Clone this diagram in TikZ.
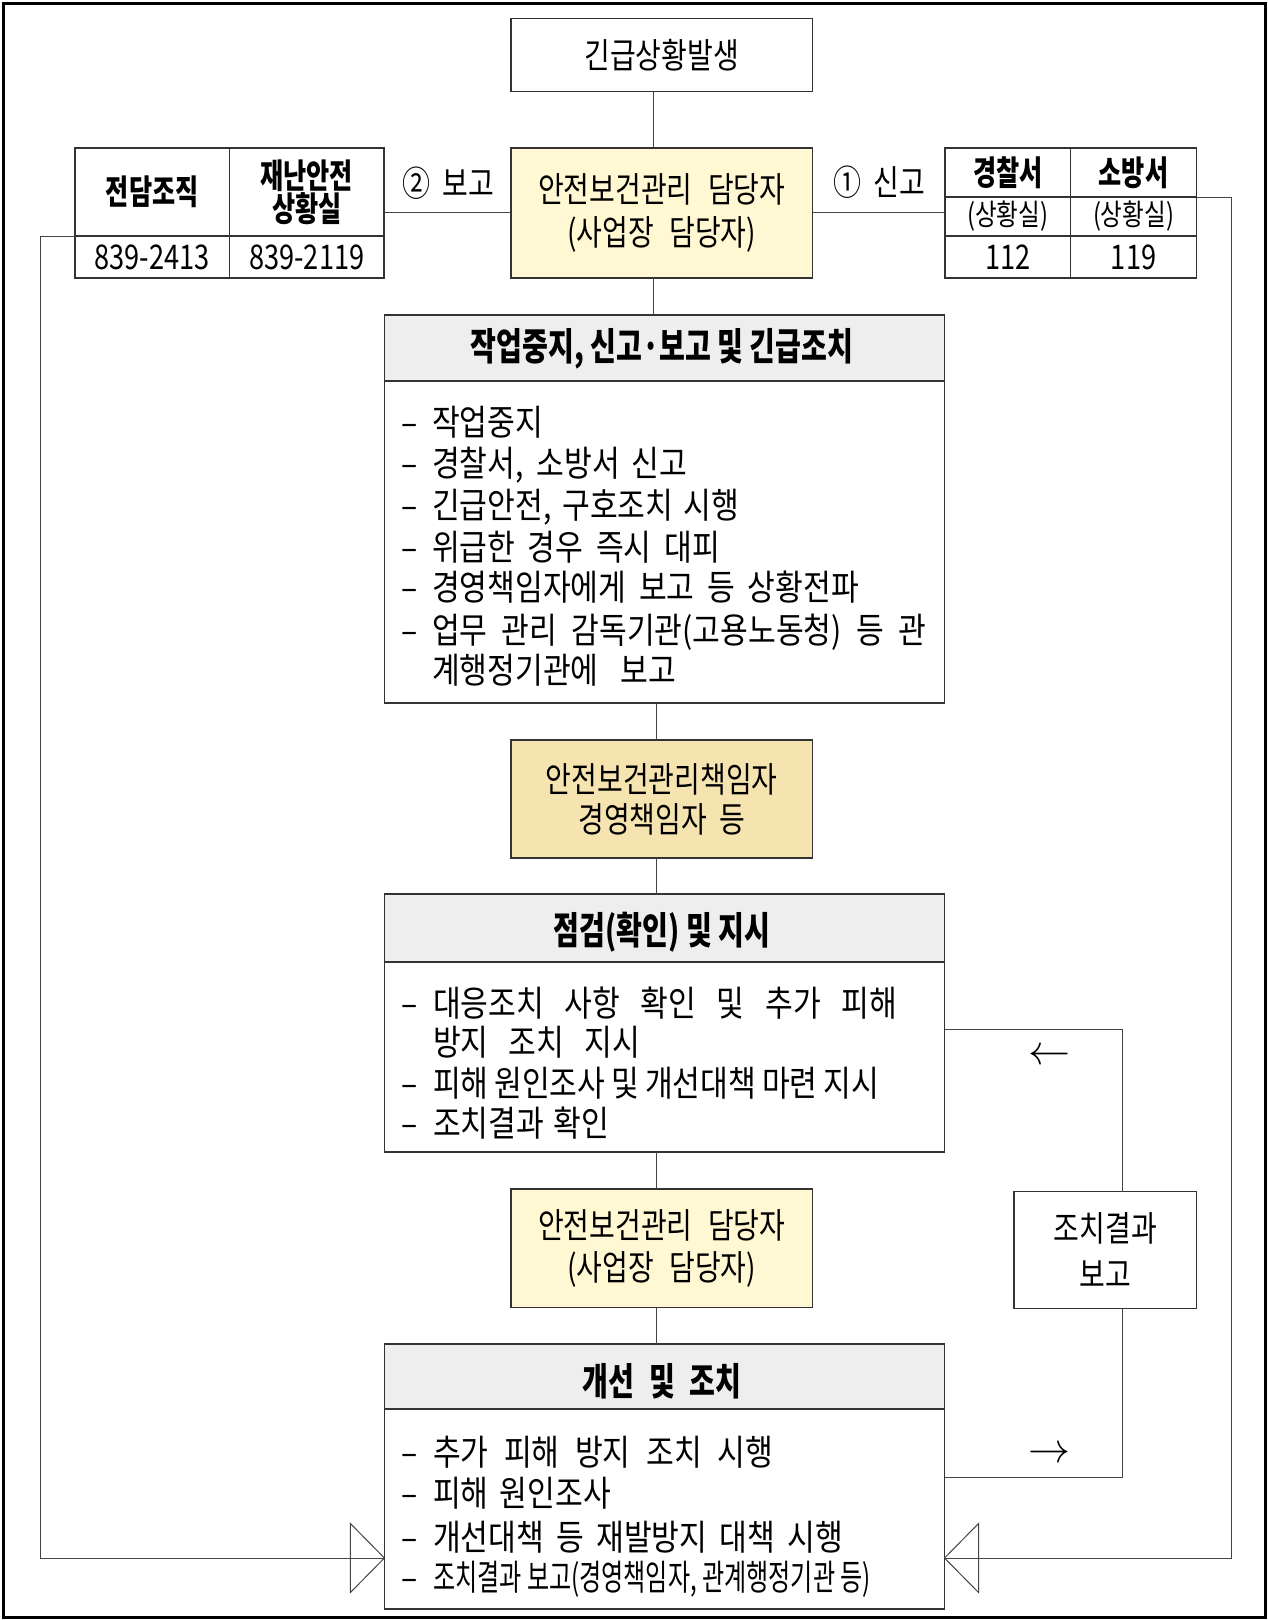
\documentclass[tikz,border=0pt]{standalone}
\usepackage{graphicx}
\usepackage{fontspec}
\usetikzlibrary{calc,arrows.meta}
\newfontfamily\krm[FakeStretch=0.8]{Noto Sans CJK KR}
\newfontfamily\krbody[FakeStretch=0.85]{Noto Sans CJK KR}
\newfontfamily\krh[FakeStretch=0.74]{Noto Sans CJK KR}
\definecolor{ylw}{HTML}{FFF8D2}
\definecolor{tanc}{HTML}{F6E4B0}
\definecolor{hdr}{HTML}{EEEEEE}
\definecolor{boxc}{HTML}{333333}
\definecolor{linec}{HTML}{444444}
\tikzset{
  box/.style={draw=boxc, line width=1.3pt, inner sep=0pt, outer sep=0pt, align=center},
  lbl/.style={font=\krm\fontsize{35}{43}\selectfont},
  cellh/.style={font=\krh\bfseries\fontsize{34}{26}\selectfont},
  cellnum/.style={font=\krm\fontsize{34}{36}\selectfont},
  cellsm/.style={font=\krm\fontsize{29.5}{30}\selectfont},
  conn/.style={draw=linec, line width=1pt},
  body/.style={anchor=base west, inner sep=0pt, outer sep=0pt, font=\krbody\fontsize{35.5}{41}\selectfont},
  hd/.style={inner sep=0pt, font=\krh\bfseries\fontsize{38}{40}\selectfont},
  arr/.style={inner sep=0pt},
}
\begin{document}
\begin{tikzpicture}[x=1pt,y=-1pt]
\useasboundingbox (0,0) rectangle (1267,1620);
\node[draw=black, line width=3pt, minimum width=1262pt, minimum height=1614pt, inner sep=0pt] (frame) at (634,810) {};
% top
\node[box, lbl, minimum width=301.5pt, minimum height=73pt] (top) at (661.75,55) {긴급상황발생};
\node[box, lbl, fill=ylw, minimum width=301.5pt, minimum height=130pt, font=\krm\fontsize{35}{43.4}\selectfont] (mgr) at (661.75,213) {안전보건관리\hspace{9pt} 담당자\\(사업장\hspace{9pt} 담당자)};
% left table
\node[box, cellh, minimum width=154.5pt, minimum height=88pt] (c11) at (152.25,192) {전담조직};
\node[box, cellh, minimum width=154.5pt, minimum height=88pt] (c12) at (306.75,192) {재난안전\\상황실};
\node[box, cellnum, minimum width=154.5pt, minimum height=42pt] (c21) at (152.25,257) {839-2413};
\node[box, cellnum, minimum width=154.5pt, minimum height=42pt] (c22) at (306.75,257) {839-2119};
% right table
\node[box, cellh, minimum width=125.6pt, minimum height=49pt] (d11) at (1007.8,172.5) {경찰서};
\node[box, cellh, minimum width=125.9pt, minimum height=49pt] (d12) at (1133.55,172.5) {소방서};
\node[box, cellsm, minimum width=125.6pt, minimum height=39pt] (d21) at (1007.8,216.5) {(상황실)};
\node[box, cellsm, minimum width=125.9pt, minimum height=39pt] (d22) at (1133.55,216.5) {(상황실)};
\node[box, cellnum, minimum width=125.6pt, minimum height=42pt] (d31) at (1007.8,257) {112};
\node[box, cellnum, minimum width=125.9pt, minimum height=42pt] (d32) at (1133.55,257) {119};
% labels
\node[inner sep=0pt, font=\krm\fontsize{35}{35}\selectfont] (rep2) at (448,183) {②\hspace{6pt} 보고};
\node[inner sep=0pt, font=\krm\fontsize{35}{35}\selectfont] (rep1) at (879.5,182) {①\hspace{6pt} 신고};
% box 1
\node[box, fill=hdr, minimum width=560.1pt, minimum height=66pt] (acth) at (664.45,348) {};
\node[box, minimum width=560.1pt, minimum height=322pt] (actb) at (664.45,542) {};
\node[hd] (actt) at (662,349) {작업중지, 신고·보고 및 긴급조치};
% chief
\node[box, lbl, fill=tanc, minimum width=301.5pt, minimum height=118pt, font=\krm\fontsize{35}{40}\selectfont] (chief) at (661.75,799) {안전보건관리책임자\\경영책임자\hspace{6pt} 등};
% box 2
\node[box, fill=hdr, minimum width=560.1pt, minimum height=68pt] (chkh) at (664.45,928) {};
\node[box, minimum width=560.1pt, minimum height=190pt] (chkb) at (664.45,1057) {};
\node[hd] (chkt) at (662,932) {점검(확인) 및 지시};
% mgr2
\node[box, lbl, fill=ylw, minimum width=301.5pt, minimum height=118.5pt, font=\krm\fontsize{35}{42}\selectfont] (mgr2) at (661.75,1248.25) {안전보건관리\hspace{9pt} 담당자\\(사업장\hspace{9pt} 담당자)};
% box 3
\node[box, fill=hdr, minimum width=560.1pt, minimum height=65pt] (imph) at (664.45,1376.5) {};
\node[box, minimum width=560.1pt, minimum height=200pt] (impb) at (664.45,1509) {};
\node[hd] (impt) at (662,1381) {개선\hspace{8pt} 및\hspace{8pt} 조치};
% report box
\node[box, lbl, minimum width=182.7pt, minimum height=117pt, font=\krm\fontsize{35}{46.7}\selectfont] (rep) at (1105.35,1250) {조치결과\\보고};
% body text box 1
\foreach \yy/\nm in {435/e1,476.5/e2,518/e3,560/e4,600/e5,643/e6} \node[body] (\nm) at (401,\yy) {–};
\node[body] (a1) at (432,435) {작업중지};
\node[body] (a2) at (432,476.5) {\makebox[255pt][s]{경찰서, 소방서 신고}};
\node[body] (a3) at (432,518) {\makebox[307pt][s]{긴급안전, 구호조치 시행}};
\node[body] (a4) at (432,560) {\makebox[288pt][s]{위급한 경우 즉시 대피}};
\node[body] (a5) at (432,600) {\makebox[427pt][s]{경영책임자에게 보고 등 상황전파}};
\node[body] (a6) at (432,643) {\makebox[494pt][s]{업무 관리 감독기관(고용노동청) 등 관}};
\node[body] (a7) at (432,683) {\makebox[244pt][s]{계행정기관에 보고}};
% body text box 2
\foreach \yy/\nm in {1016/f1,1096/f3,1136/f4} \node[body] (\nm) at (401,\yy) {–};
\node[body] (b1) at (433,1016) {\makebox[464pt][s]{대응조치 사항 확인 및 추가 피해}};
\node[body] (b2) at (433,1055) {\makebox[207pt][s]{방지 조치 지시}};
\node[body] (b3) at (433,1096) {\makebox[446pt][s]{피해 원인조사 및 개선대책 마련 지시}};
\node[body] (b4) at (433,1136) {\makebox[176pt][s]{조치결과 확인}};
% body text box 3
\foreach \yy/\nm in {1465/g1,1506/g2,1550/g3,1590/g4} \node[body] (\nm) at (401,\yy) {–};
\node[body] (h1) at (433,1465) {\makebox[340pt][s]{추가 피해 방지 조치 시행}};
\node[body] (h2) at (433,1506) {\makebox[178pt][s]{피해 원인조사}};
\node[body] (h3) at (433,1550) {\makebox[410pt][s]{개선대책 등 재발방지 대책 시행}};
\node[body] (h4) at (433,1590) {\resizebox{438pt}{\height}{조치결과 보고(경영책임자, 관계행정기관 등)}};
% arrows as text
\node[arr] (larr) at (1049,1057) {\scalebox{4.2}{$\leftarrow$}};
\node[arr] (rarr) at (1049,1455) {\scalebox{4.2}{$\rightarrow$}};
% helper coordinates
\coordinate (vx1) at (653,0);
\coordinate (vx2) at (656,0);
\coordinate (hy) at (0,212.3);
\coordinate (lcorner) at (40,1558);
\coordinate (rcorner) at (1231,1558);
\coordinate (fx) at (1122,0);
\coordinate (fy1) at (0,1029);
\coordinate (fy2) at (0,1477);
\coordinate (ltip) at (impb.west |- lcorner);
\coordinate (rtip) at (impb.east |- rcorner);
% connectors
\draw[conn] (top.south -| vx1) -- (mgr.north -| vx1);
\draw[conn] (mgr.south -| vx1) -- (acth.north -| vx1);
\draw[conn] (actb.south -| vx2) -- (chief.north -| vx2);
\draw[conn] (chief.south -| vx2) -- (chkh.north -| vx2);
\draw[conn] (chkb.south -| vx2) -- (mgr2.north -| vx2);
\draw[conn] (mgr2.south -| vx2) -- (imph.north -| vx2);
\draw[conn] (c12.east |- hy) -- (mgr.west |- hy);
\draw[conn] (mgr.east |- hy) -- (d11.west |- hy);
\draw[conn] (chkb.east |- fy1) -| (rep.north -| fx);
\draw[conn] (rep.south -| fx) |- (impb.east |- fy2);
\draw[conn] (c11.south west) -| (lcorner) -- (ltip);
\draw[conn] (d12.south east) -| (rcorner) -- (rtip);
\draw[conn, line join=miter] ($(ltip)+(-34,-34.5)$) -- (ltip) -- ($(ltip)+(-34,34.5)$) -- cycle;
\draw[conn, line join=miter] ($(rtip)+(34,-34.5)$) -- (rtip) -- ($(rtip)+(34,34.5)$) -- cycle;
\end{tikzpicture}
\end{document}
